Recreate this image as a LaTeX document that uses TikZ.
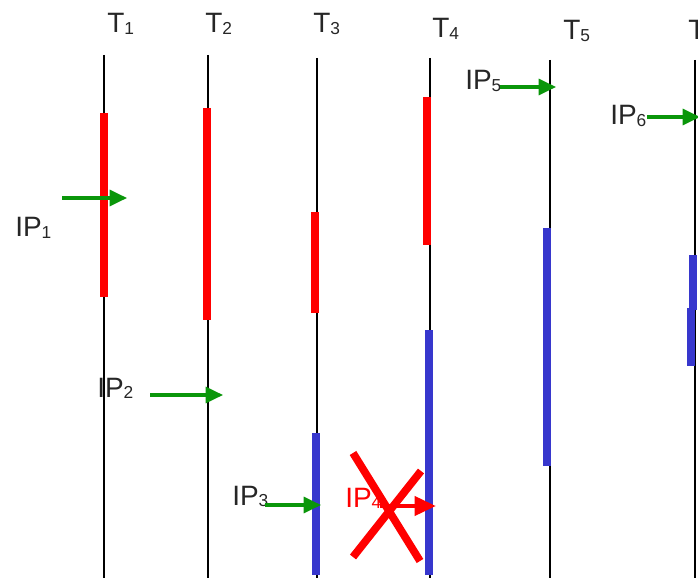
\documentclass[tikz,border=0pt]{standalone}
\usepackage{fontspec}
\setmainfont{Liberation Sans}
\usetikzlibrary{arrows.meta}
\definecolor{tgreen}{RGB}{10,150,10}
\definecolor{tblue}{RGB}{55,55,205}
\definecolor{tred}{RGB}{255,0,0}
\newcommand\subd[1]{\raisebox{-0.05em}{\fontsize{13}{13}\selectfont #1}}
\begin{document}
\begin{tikzpicture}[x=0.75pt,y=-0.75pt,
  lbl/.style={anchor=base west,inner sep=0pt,font=\fontsize{21}{21}\selectfont\color{black!85}},
  thread/.style={line width=1.2pt,black},
  redseg/.style={line width=5.8pt,tred},
  blueseg/.style={line width=5.5pt,tblue},
  garrow/.style={line width=2.4pt,tgreen,-{Triangle[length=13pt,width=12pt]}},
  rarrow/.style={line width=3.6pt,tred,-{Triangle[length=16pt,width=14pt]}},
  cross/.style={line width=5.8pt,tred}]
\useasboundingbox (0,0) rectangle (698,580);
% thread labels
\node[lbl] (t1) at (107,33) {T\subd{1}};
\node[lbl] (t2) at (205,33) {T\subd{2}};
\node[lbl] (t3) at (313,33) {T\subd{3}};
\node[lbl] (t4) at (432,38) {T\subd{4}};
\node[lbl] (t5) at (563,40) {T\subd{5}};
\node[lbl] (t6) at (688,40) {T\subd{6}};
% thread lines
\coordinate (a1) at (104,55);  \coordinate (b1) at (104,578);
\coordinate (a2) at (208,55);  \coordinate (b2) at (208,578);
\coordinate (a3) at (317,58);  \coordinate (b3) at (317,578);
\coordinate (a4) at (430,58);  \coordinate (b4) at (430,578);
\coordinate (a5) at (550,60);  \coordinate (b5) at (550,578);
\coordinate (a6) at (695,60);  \coordinate (b6) at (695,578);
\foreach \i in {1,...,6} \draw[thread] (a\i) -- (b\i);
% red segments
\draw[redseg] (104,113) -- (104,297);
\draw[redseg] (207,108) -- (207,320);
\draw[redseg] (315,212) -- (315,313);
\draw[redseg] (427,97) -- (427,245);
% blue segments
\draw[blueseg] (316,433) -- (316,575);
\draw[blueseg] (429,330) -- (429,575);
\draw[blueseg] (547,228) -- (547,466);
\draw[blueseg] (693,255) -- (693,310);
\draw[blueseg] (691,308) -- (691,366);
% IP labels
\node[lbl] (ip1) at (15,237) {IP\subd{1}};
\node[lbl] (ip2) at (97,397) {IP\subd{2}};
\node[lbl] (ip3) at (232,505) {IP\subd{3}};
\node[lbl,text=tred] (ip4) at (345,507) {IP\subd{4}};
\node[lbl] (ip5) at (465,90) {IP\subd{5}};
\node[lbl] (ip6) at (610,125) {IP\subd{6}};
% arrows
\coordinate (s1) at (62,198);  \coordinate (e1) at (127,198);
\coordinate (s2) at (150,395); \coordinate (e2) at (223,395);
\coordinate (s3) at (265,505); \coordinate (e3) at (321,505);
\coordinate (s4) at (380,506); \coordinate (e4) at (436,506);
\coordinate (s5) at (500,87);  \coordinate (e5) at (556,87);
\coordinate (s6) at (647,117); \coordinate (e6) at (700,117);
\draw[garrow] (s1) -- (e1);
\draw[garrow] (s2) -- (e2);
\draw[garrow] (s3) -- (e3);
\draw[rarrow] (s4) -- (e4);
\draw[garrow] (s5) -- (e5);
\draw[garrow] (s6) -- (e6);
% cross
\coordinate (x1) at (353,453); \coordinate (x2) at (420,561);
\coordinate (x3) at (421,471); \coordinate (x4) at (353,557);
\draw[cross] (x1) -- (x2);
\draw[cross] (x3) -- (x4);
\end{tikzpicture}
\end{document}
